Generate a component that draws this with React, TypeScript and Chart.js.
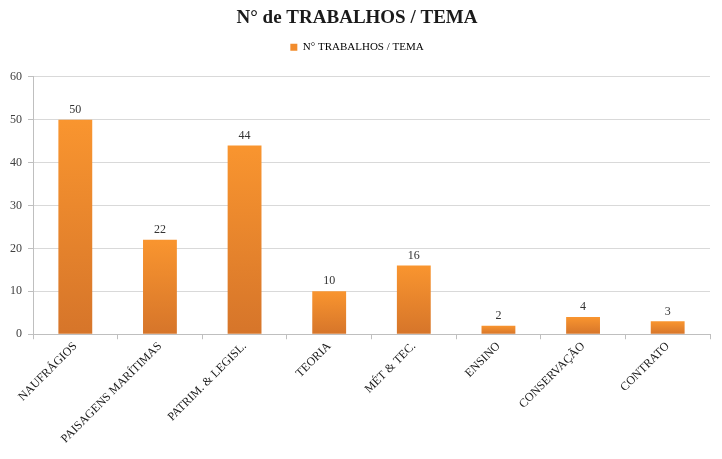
import React, { useEffect, useRef } from 'react';
import { Chart, registerables, Plugin } from 'chart.js';

Chart.register(...registerables);

const categories = [
  'NAUFRÁGIOS',
  'PAISAGENS MARÍTIMAS',
  'PATRIM. & LEGISL.',
  'TEORIA',
  'MÉT & TEC.',
  'ENSINO',
  'CONSERVAÇÃO',
  'CONTRATO',
];
const trabalhos = [50, 22, 44, 10, 16, 2, 4, 3];
const yTicks = [0, 10, 20, 30, 40, 50, 60];

const serif = '"Liberation Serif", "DejaVu Serif", serif';

// draws the value above each bar
const valueLabels: Plugin<'bar'> = {
  id: 'valueLabels',
  afterDatasetsDraw(chart) {
    const ctx = chart.ctx;
    const meta = chart.getDatasetMeta(0);
    ctx.save();
    ctx.font = `12px ${serif}`;
    ctx.fillStyle = '#333333';
    ctx.textAlign = 'center';
    ctx.textBaseline = 'bottom';
    meta.data.forEach((bar, i) => {
      ctx.fillText(String(trabalhos[i]), bar.x, bar.y - 4);
    });
    ctx.restore();
  },
};

// extra gap under the legend
const legendGap: Plugin<'bar'> = {
  id: 'legendGap',
  beforeInit(chart: any) {
    if (!chart.legend) return;
    const fit = chart.legend.fit;
    chart.legend.fit = function () {
      fit.call(this);
      this.height += 14;
    };
  },
};

function barFill(context: any) {
  const chart = context.chart;
  const y = chart.scales?.y;
  if (!chart.chartArea || !y || context.dataIndex === undefined) return '#F28C2C';
  const top = y.getPixelForValue(trabalhos[context.dataIndex]);
  const bottom = y.getPixelForValue(0);
  const g = chart.ctx.createLinearGradient(0, top, 0, bottom);
  g.addColorStop(0, '#F9952F');
  g.addColorStop(1, '#D6752A');
  return g;
}

const BarChart: React.FC = () => {
  const canvasRef = useRef<HTMLCanvasElement | null>(null);
  const chartRef = useRef<Chart | null>(null);

  useEffect(() => {
    document.body.style.margin = '0';
    if (!canvasRef.current) return;
    const ctx = canvasRef.current.getContext('2d');
    if (!ctx) return;
    if (chartRef.current) chartRef.current.destroy();

    chartRef.current = new Chart(ctx, {
      type: 'bar',
      data: {
        labels: categories,
        datasets: [
          {
            label: 'N° TRABALHOS / TEMA',
            data: trabalhos,
            backgroundColor: barFill,
            borderWidth: 0,
            barPercentage: 0.4,
            categoryPercentage: 1,
          },
        ],
      },
      options: {
        animation: false,
        responsive: true,
        maintainAspectRatio: false,
        layout: { padding: { left: 4, right: 12, top: 0, bottom: 13 } },
        plugins: {
          title: {
            display: true,
            text: 'N° de TRABALHOS / TEMA',
            color: '#1a1a1a',
            font: { family: serif, size: 19, weight: 'bold' },
            padding: { top: 7, bottom: 0 },
          },
          legend: {
            display: true,
            labels: {
              color: '#262626',
              font: { family: serif, size: 11 },
              boxWidth: 7,
              boxHeight: 7,
              padding: 12,
              generateLabels: () => [
                {
                  text: 'N° TRABALHOS / TEMA',
                  fillStyle: '#F28C2C',
                  strokeStyle: '#F28C2C',
                  lineWidth: 0,
                  datasetIndex: 0,
                },
              ],
            },
          },
          tooltip: { enabled: false },
        },
        scales: {
          x: {
            grid: {
              offset: true,
              drawOnChartArea: false,
              color: '#BFBFBF',
              tickLength: 5,
            },
            border: { color: '#BFBFBF' },
            ticks: {
              color: '#1a1a1a',
              font: { family: serif, size: 12 },
              minRotation: 45,
              maxRotation: 45,
              autoSkip: false,
              padding: 0,
            },
          },
          y: {
            min: 0,
            max: 60,
            afterBuildTicks: (axis) => {
              axis.ticks = yTicks.map((v) => ({ value: v }));
            },
            grid: { color: '#D9D9D9', tickLength: 5, tickColor: '#BFBFBF' },
            border: { color: '#BFBFBF' },
            ticks: {
              color: '#404040',
              font: { family: serif, size: 12 },
              padding: 6,
            },
          },
        },
      },
      plugins: [valueLabels, legendGap],
    });

    return () => {
      if (chartRef.current) {
        chartRef.current.destroy();
        chartRef.current = null;
      }
    };
  }, []);

  return (
    <div style={{ position: 'relative', width: 722, height: 459, background: '#fff' }}>
      <canvas ref={canvasRef}></canvas>
    </div>
  );
};

export default function App() {
  return <BarChart />;
}
